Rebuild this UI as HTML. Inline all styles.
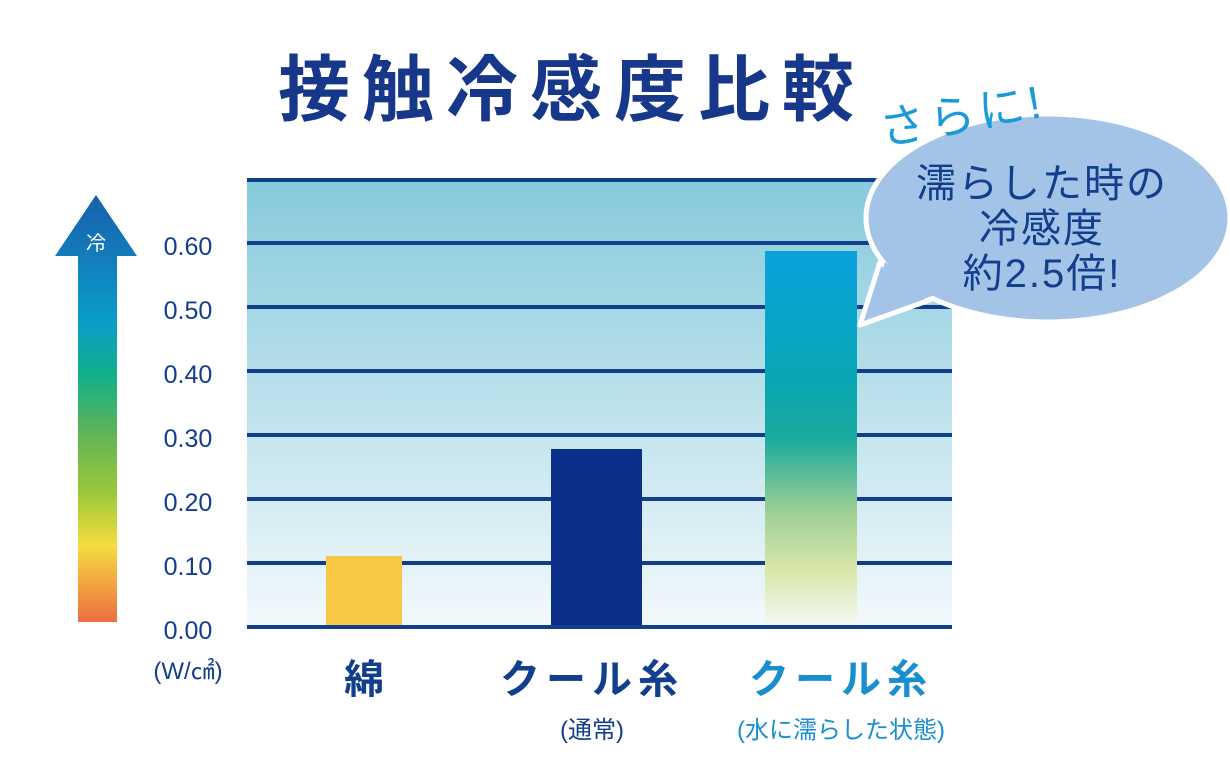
<!DOCTYPE html><html><head><meta charset="utf-8"><style>
body{margin:0;background:#fff;width:1230px;height:779px;overflow:hidden;font-family:"Liberation Sans","Noto Sans CJK JP",sans-serif}
</style></head><body>
<svg width="1230" height="779" viewBox="0 0 1230 779" xmlns="http://www.w3.org/2000/svg" font-family="Liberation Sans, Noto Sans CJK JP, sans-serif">
<defs>
<linearGradient id="bg" x1="0" y1="0" x2="0" y2="1"><stop offset="0" stop-color="#86cadb"/><stop offset="1" stop-color="#f3f9fc"/></linearGradient>
<linearGradient id="arr" x1="0" y1="0" x2="0" y2="1"><stop offset="0" stop-color="#1a5fae"/><stop offset="0.3" stop-color="#0a9dc8"/><stop offset="0.42" stop-color="#10b08a"/><stop offset="0.55" stop-color="#5cb35a"/><stop offset="0.7" stop-color="#9cc83a"/><stop offset="0.82" stop-color="#f5dd40"/><stop offset="1" stop-color="#ee6e40"/></linearGradient>
<linearGradient id="wet" x1="0" y1="0" x2="0" y2="1"><stop offset="0" stop-color="#0aa2de"/><stop offset="0.35" stop-color="#0aa6b4"/><stop offset="0.5" stop-color="#1aaa9e"/><stop offset="0.7" stop-color="#9fcf95"/><stop offset="0.85" stop-color="#d8e7a8"/><stop offset="1" stop-color="#f3f8f4"/></linearGradient>
</defs>
<text x="572" y="115" font-size="72" font-weight="bold" fill="#17378a" text-anchor="middle" letter-spacing="12">接触冷感度比較</text>
<rect x="247" y="180" width="705" height="447" fill="url(#bg)"/>
<g stroke="#123e8e" stroke-width="4">
<line x1="247" y1="180" x2="952" y2="180"/><line x1="247" y1="243" x2="952" y2="243"/><line x1="247" y1="307" x2="952" y2="307"/><line x1="247" y1="371" x2="952" y2="371"/><line x1="247" y1="435" x2="952" y2="435"/><line x1="247" y1="499" x2="952" y2="499"/><line x1="247" y1="563" x2="952" y2="563"/><line x1="247" y1="627" x2="952" y2="627"/>
</g>
<rect x="326" y="556" width="76" height="69" fill="#f8c845"/>
<rect x="551" y="449" width="91" height="176" fill="#0c2f8a"/>
<rect x="765" y="251" width="92" height="374" fill="url(#wet)"/>
<polygon points="96,195 137,256 117,256 117,622 78,622 78,256 55,256" fill="url(#arr)"/>
<text x="96" y="250" font-size="20" fill="#fff" text-anchor="middle">冷</text>
<g font-size="25" fill="#123e8e" text-anchor="middle">
<text x="188" y="255">0.60</text><text x="188" y="319">0.50</text><text x="188" y="383">0.40</text><text x="188" y="447">0.30</text><text x="188" y="511">0.20</text><text x="188" y="575">0.10</text><text x="188" y="639">0.00</text>
<text x="188" y="679" font-size="24">(W/㎠)</text>
</g>
<text x="364" y="693" font-size="40" font-weight="bold" fill="#123e8e" text-anchor="middle">綿</text>
<text x="592" y="693" font-size="40" font-weight="bold" fill="#123e8e" text-anchor="middle" letter-spacing="6">クール糸</text>
<text x="592" y="738" font-size="24" fill="#123e8e" text-anchor="middle">(通常)</text>
<text x="841" y="693" font-size="40" font-weight="bold" fill="#1a8fd0" text-anchor="middle" letter-spacing="6">クール糸</text>
<text x="841" y="738" font-size="24" fill="#1a8fd0" text-anchor="middle">(水に濡らした状態)</text>
<path d="M880,262 L860,325 L930,300 Z" fill="#a3c4e6" stroke="#fff" stroke-width="5" stroke-linejoin="round"/>
<ellipse cx="1048" cy="218" rx="182" ry="104" fill="#a3c4e6" stroke="#fff" stroke-width="5"/>
<path d="M885,262 L868,318 L935,295 Z" fill="#a3c4e6"/>
<text x="965" y="131" font-size="46" fill="#1a9ad8" transform="rotate(-10 965 131)" text-anchor="middle" letter-spacing="4">さらに!</text>
<g font-size="40" fill="#123e8e" text-anchor="middle" letter-spacing="2">
<text x="1042" y="197">濡らした時の</text><text x="1042" y="242">冷感度</text><text x="1042" y="287">約2.5倍!</text>
</g>
</svg>
</body></html>
